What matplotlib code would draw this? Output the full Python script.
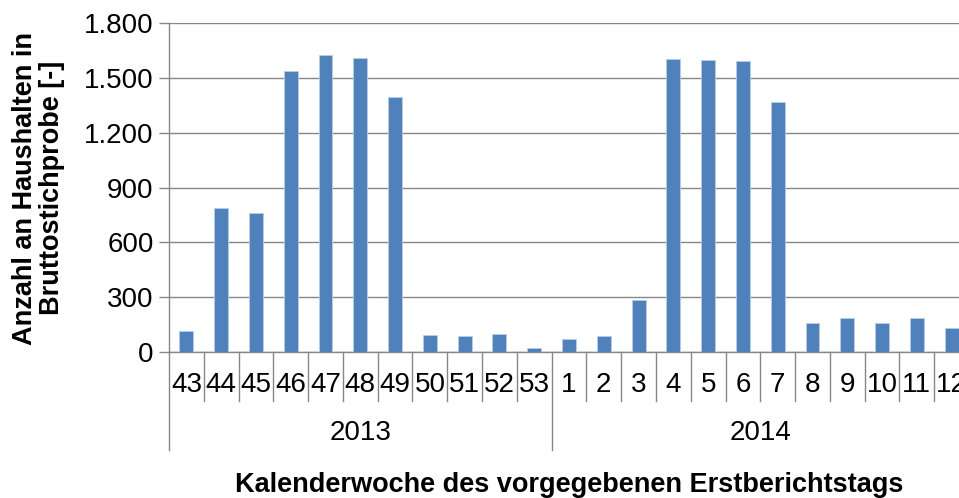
import numpy as np
import matplotlib
matplotlib.use("Agg")
import matplotlib.pyplot as plt
from matplotlib.ticker import FuncFormatter, MultipleLocator
import matplotlib.transforms as mtransforms

plt.rcParams["font.family"] = ["Liberation Sans", "DejaVu Sans"]

# data
weeks_2013 = ["43", "44", "45", "46", "47", "48", "49", "50", "51", "52", "53"]
weeks_2014 = ["1", "2", "3", "4", "5", "6", "7", "8", "9", "10", "11", "12"]
vals_2013 = [113, 789, 760, 1539, 1627, 1609, 1395, 95, 89, 97, 24]
vals_2014 = [71, 89, 287, 1603, 1598, 1592, 1371, 161, 184, 161, 184, 131]
years = ["2013", "2014"]

weeks = weeks_2013 + weeks_2014
vals = vals_2013 + vals_2014
x = np.arange(len(weeks))

BAR = "#4F81BD"
GRID = "#878787"
FS = 20

fig = plt.figure(figsize=(9.59, 4.98), dpi=100)
W, H = 959, 498
# axes runs past the right edge, as in the reference (last bar cut off)
ax = fig.add_axes([169 / W, 1 - 352 / H, 800 / W, (352 - 23.3) / H])

ax.bar(x, vals, width=0.4, color=BAR, edgecolor="#B9CDE5", linewidth=0.6, zorder=3)

ax.set_xlim(-0.5, len(weeks) - 0.5)
ax.set_ylim(0, 1800)
ax.yaxis.set_major_locator(MultipleLocator(300))
ax.yaxis.set_major_formatter(FuncFormatter(lambda v, p: f"{v:,.0f}".replace(",", ".")))
ax.grid(axis="y", color=GRID, lw=1, zorder=0)
ax.tick_params(axis="y", labelsize=FS, length=7, color=GRID, width=1, pad=4)

for s in ["top", "right"]:
    ax.spines[s].set_visible(False)
for s in ["left", "bottom"]:
    ax.spines[s].set_color(GRID)
    ax.spines[s].set_linewidth(1)

# category axis: week labels, separators, year groups
ax.set_xticks([])
trans = mtransforms.blended_transform_factory(ax.transData, ax.transAxes)
px = 1 / (352 - 23.3)  # one pixel in axes-y units
for i, w in enumerate(weeks):
    ax.text(i, -33 * px, w, transform=trans, ha="center", va="center", fontsize=FS)
n13 = len(weeks_2013)
for b in np.arange(len(weeks) + 1) - 0.5:
    long_line = b in (-0.5, n13 - 0.5, len(weeks) - 0.5)
    ax.plot([b, b], [0, -(98 if long_line else 49) * px], transform=trans,
            color=GRID, lw=1, clip_on=False)
ax.text((n13 - 1) / 2, -81 * px, years[0], transform=trans, ha="center",
        va="center", fontsize=FS)
ax.text(n13 + (len(weeks_2014) - 1) / 2, -81 * px, years[1], transform=trans,
        ha="center", va="center", fontsize=FS)

fig.text(39 / W, 1 - 188 / H, "Anzahl an Haushalten in\nBruttostichprobe [-]",
         rotation=90, ha="center", va="center", fontsize=19.5, fontweight="bold",
         multialignment="center", linespacing=1.05)
fig.text(569 / W, 1 - 485 / H, "Kalenderwoche des vorgegebenen Erstberichtstags",
         ha="center", va="center", fontsize=19.5, fontweight="bold")

fig.savefig("out.png", dpi=100)
